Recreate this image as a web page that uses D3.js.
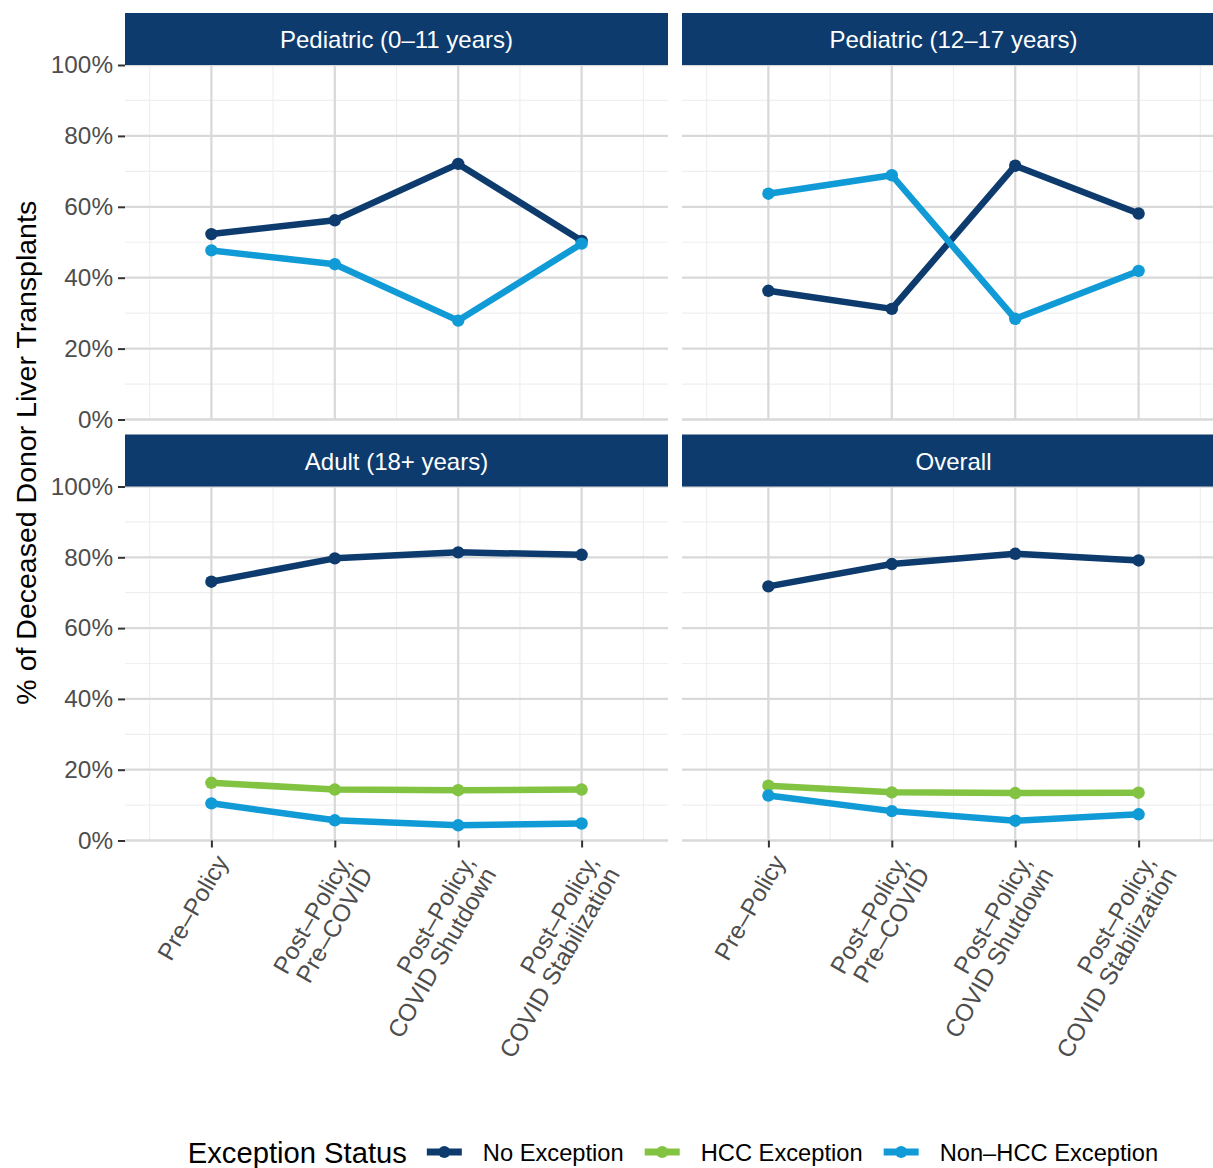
<!DOCTYPE html>
<html>
<head>
<meta charset="utf-8">
<script src="https://cdn.jsdelivr.net/npm/d3@7"></script>
<style>
body { margin:0; background:#fff; overflow:hidden; }
text { font-family: "Liberation Sans", Arial, sans-serif; }
</style>
</head>
<body>
<div id="canvas"></div>
<script>
// --- data (percent of deceased donor liver transplants)
var periods = ['Pre–Policy', 'Post–Policy,\nPre–COVID', 'Post–Policy,\nCOVID Shutdown', 'Post–Policy,\nCOVID Stabilization'];
var groups = ['Pediatric (0–11 years)', 'Pediatric (12–17 years)', 'Adult (18+ years)', 'Overall'];
var statuses = ['No Exception', 'HCC Exception', 'Non–HCC Exception'];
var yTicks = [0, 20, 40, 60, 80, 100];

var ped011NoExc = [52.3, 56.2, 72.1, 50.4];
var ped011NonHcc = [47.7, 43.8, 27.9, 49.6];
var ped1217NoExc = [36.3, 31.2, 71.6, 58.1];
var ped1217NonHcc = [63.7, 68.9, 28.4, 41.9];
var adultNoExc = [73.1, 79.7, 81.4, 80.7];
var adultHcc = [16.3, 14.4, 14.2, 14.4];
var adultNonHcc = [10.5, 5.7, 4.3, 4.8];
var overallNoExc = [71.8, 78.1, 81.0, 79.1];
var overallHcc = [15.5, 13.6, 13.4, 13.5];
var overallNonHcc = [12.7, 8.3, 5.6, 7.4];

var colors = ['#0d3b6e', '#82c341', '#109bd7'];

// --- layout (right column runs past the edge of the picture, like the original)
var W = 1213, H = 1168;
var cols = [{x0:125, x1:668}, {x0:682, x1:1225}];
var rows = [{strip:13, top:65, bottom:419.5}, {strip:434.5, top:486.5, bottom:840.5}];
var stripH = 52;
var tickFont = 24.3;

var svg = d3.select('#canvas')
  .append('svg')
  .attr('width', W)
  .attr('height', H);

var panels = [
  {title:groups[0], col:0, row:0, series:[[0, ped011NoExc], [2, ped011NonHcc]]},
  {title:groups[1], col:1, row:0, series:[[0, ped1217NoExc], [2, ped1217NonHcc]]},
  {title:groups[2], col:0, row:1, series:[[0, adultNoExc], [1, adultHcc], [2, adultNonHcc]]},
  {title:groups[3], col:1, row:1, series:[[0, overallNoExc], [1, overallHcc], [2, overallNonHcc]]}
];

panels.forEach(function(p){
  var c = cols[p.col], r = rows[p.row];
  var x = d3.scalePoint().domain(periods).range([c.x0, c.x1]).padding(0.7);
  var y = d3.scaleLinear().domain([0, 100]).range([r.bottom, r.top]);
  var g = svg.append('g');

  // minor grid
  var minorX = periods.map(function(d){ return x(d) - x.step()/2; });
  minorX.push(x(periods[periods.length-1]) + x.step()/2);
  g.selectAll('.mx').data(minorX).enter().append('line')
    .attr('x1', function(d){return d;}).attr('x2', function(d){return d;})
    .attr('y1', r.top).attr('y2', r.bottom)
    .attr('stroke', '#efefef').attr('stroke-width', 1.2);
  g.selectAll('.my').data([10, 30, 50, 70, 90]).enter().append('line')
    .attr('x1', c.x0).attr('x2', c.x1)
    .attr('y1', function(d){return y(d);}).attr('y2', function(d){return y(d);})
    .attr('stroke', '#efefef').attr('stroke-width', 1.2);

  // major grid
  g.selectAll('.gx').data(periods).enter().append('line')
    .attr('x1', function(d){return x(d);}).attr('x2', function(d){return x(d);})
    .attr('y1', r.top).attr('y2', r.bottom)
    .attr('stroke', '#d9d9d9').attr('stroke-width', 2.3);
  g.selectAll('.gy').data(yTicks).enter().append('line')
    .attr('x1', c.x0).attr('x2', c.x1)
    .attr('y1', function(d){return y(d);}).attr('y2', function(d){return y(d);})
    .attr('stroke', '#d9d9d9').attr('stroke-width', 2.3);

  // strip
  g.append('rect')
    .attr('x', c.x0).attr('y', r.strip)
    .attr('width', c.x1 - c.x0).attr('height', stripH)
    .attr('fill', '#0d3b6e');
  g.append('text')
    .attr('x', (c.x0 + c.x1)/2).attr('y', r.strip + stripH/2)
    .attr('dy', '0.38em')
    .attr('text-anchor', 'middle')
    .attr('fill', '#fff')
    .attr('font-size', 24)
    .text(p.title);

  // lines + points
  var line = d3.line()
    .x(function(d, i){ return x(periods[i]); })
    .y(function(d){ return y(d); });
  p.series.forEach(function(s){
    g.append('path')
      .attr('d', line(s[1]))
      .attr('fill', 'none')
      .attr('stroke', colors[s[0]])
      .attr('stroke-width', 6.5)
      .attr('stroke-linejoin', 'round');
    g.selectAll(null).data(s[1]).enter().append('circle')
      .attr('cx', function(d, i){ return x(periods[i]); })
      .attr('cy', function(d){ return y(d); })
      .attr('r', 6.2)
      .attr('fill', colors[s[0]]);
  });

  // y axis on left column
  if (p.col === 0) {
    var ay = g.append('g')
      .attr('transform', 'translate(' + c.x0 + ',0)')
      .call(d3.axisLeft(y).tickValues(yTicks).tickSize(7).tickPadding(5)
        .tickFormat(function(d){ return d + '%'; }));
    ay.select('.domain').remove();
    ay.selectAll('line').attr('stroke', '#333').attr('stroke-width', 2);
    ay.selectAll('text').attr('fill', '#4d4d4d').attr('font-size', tickFont)
      .attr('font-family', '"Liberation Sans", Arial, sans-serif');
  }

  // x axis on bottom row
  if (p.row === 1) {
    var ax = g.append('g')
      .attr('transform', 'translate(0,' + r.bottom + ')')
      .call(d3.axisBottom(x).tickSize(7));
    ax.select('.domain').remove();
    ax.selectAll('line').attr('stroke', '#333').attr('stroke-width', 2);
    ax.selectAll('text').remove();
    periods.forEach(function(d){
      var t = g.append('text')
        .attr('transform', 'translate(' + (x(d) + 2) + ',' + (r.bottom + 12) + ') rotate(-60)')
        .attr('text-anchor', 'end')
        .attr('fill', '#4d4d4d')
        .attr('font-size', tickFont);
      d.split('\n').forEach(function(ln, i){
        t.append('tspan').attr('x', 0).attr('dy', i === 0 ? '0.75em' : '1.0em').text(ln);
      });
    });
  }
});

// y title
svg.append('text')
  .attr('transform', 'translate(36,' + ((rows[0].top + rows[1].bottom)/2) + ') rotate(-90)')
  .attr('text-anchor', 'middle')
  .attr('font-size', 28.5)
  .attr('fill', '#000')
  .text('% of Deceased Donor Liver Transplants');

// legend
var leg = svg.append('g').attr('transform', 'translate(0,1152)');
var title = leg.append('text').attr('font-size', 29.2).attr('dy', '0.36em').text('Exception Status');
var pos = title.node().getComputedTextLength() + 20;
statuses.forEach(function(s, i){
  var k = leg.append('g').attr('transform', 'translate(' + pos + ',0)');
  k.append('line').attr('x1', 0).attr('x2', 35).attr('y1', 0).attr('y2', 0)
    .attr('stroke', colors[i]).attr('stroke-width', 7);
  k.append('circle').attr('cx', 17.5).attr('cy', 0).attr('r', 6).attr('fill', colors[i]);
  var t = leg.append('text').attr('x', pos + 56).attr('dy', '0.36em')
    .attr('font-size', 23.7).text(s);
  pos += 56 + t.node().getComputedTextLength() + 21;
});
pos -= 21;
leg.attr('transform', 'translate(' + (673 - pos/2) + ',1152)');
</script>
</body>
</html>
